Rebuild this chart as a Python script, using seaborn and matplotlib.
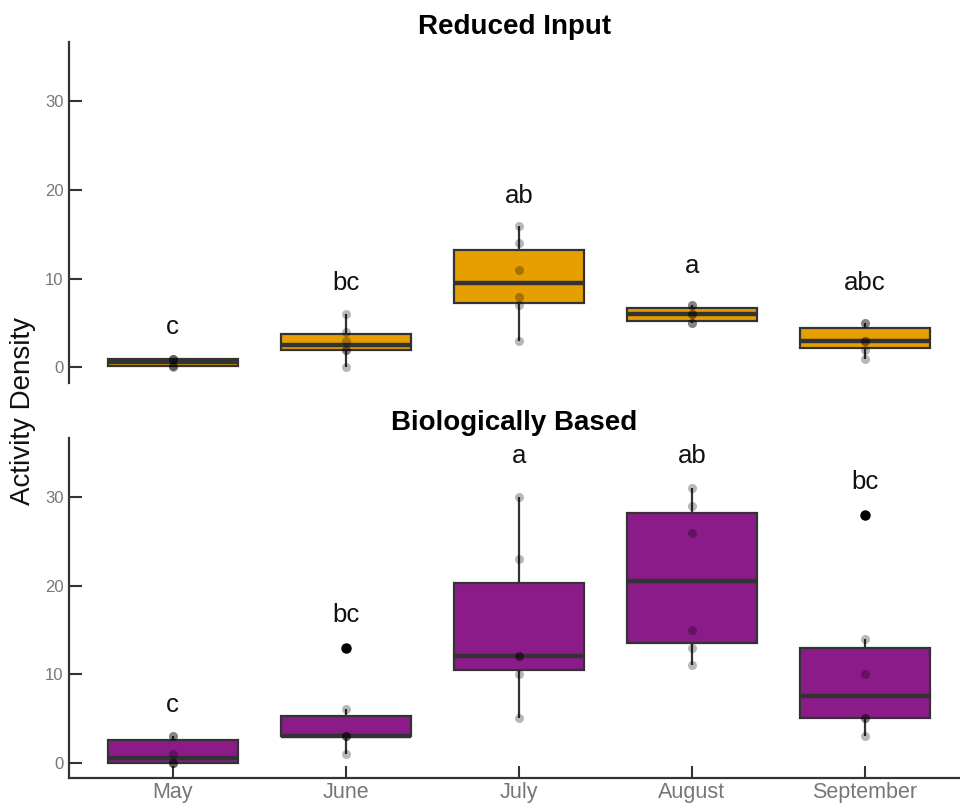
import matplotlib
matplotlib.use("Agg")
import matplotlib.pyplot as plt
import seaborn as sns
import pandas as pd

months = ["May", "June", "July", "August", "September"]

# Reduced Input values per month (6 samples each)
reduced_may = [0, 0.2, 0.2, 1, 1, 1]
reduced_june = [0, 2, 2, 3, 4, 6]
reduced_july = [3, 7, 8, 11, 14, 16]
reduced_august = [5, 5, 6, 6, 7, 7]
reduced_september = [1, 2, 3, 3, 5, 5]

# Biologically Based values per month
bio_may = [0, 0, 0, 1, 3, 3]
bio_june = [1, 3, 3, 3, 6, 13]
bio_july = [5, 10, 12, 12, 23, 30]
bio_august = [11, 13, 15, 26, 29, 31]
bio_september = [3, 5, 5, 10, 14, 28]

# significance letters and their heights
reduced_letters = ["c", "bc", "ab", "a", "abc"]
reduced_letter_y = [3.8, 8.7, 18.6, 10.7, 8.7]
bio_letters = ["c", "bc", "a", "ab", "bc"]
bio_letter_y = [5.75, 15.9, 33.9, 33.9, 30.9]

titles = ["Reduced Input", "Biologically Based"]
y_ticks = [0, 10, 20, 30]


def long_df(groups):
    rows = []
    for m, vals in zip(months, groups):
        for v in vals:
            rows.append({"month": m, "density": v})
    return pd.DataFrame(rows)


df_red = long_df([reduced_may, reduced_june, reduced_july, reduced_august, reduced_september])
df_bio = long_df([bio_may, bio_june, bio_july, bio_august, bio_september])

sns.set_style("white")
plt.rcParams["font.family"] = ["Liberation Sans", "DejaVu Sans"]

ORANGE = "#E69F00"
PURPLE = "#8A1B88"
EDGE = "#333333"
TICKC = "#777777"

fig = plt.figure(figsize=(9.6, 8.08), dpi=100)
ax1 = fig.add_axes([69 / 960, 1 - 383 / 808, (960 - 69) / 960, (383 - 42) / 808])
ax2 = fig.add_axes([69 / 960, 1 - 778 / 808, (960 - 69) / 960, (778 - 438) / 808])

for ax, df, col, title, letters, ly in [
    (ax1, df_red, ORANGE, titles[0], reduced_letters, reduced_letter_y),
    (ax2, df_bio, PURPLE, titles[1], bio_letters, bio_letter_y),
]:
    sns.boxplot(data=df, x="month", y="density", order=months, color=col,
                saturation=1, width=0.75, linewidth=1.6, linecolor=EDGE,
                showcaps=False, whis=1.5,
                flierprops=dict(marker="o", markerfacecolor="black",
                                markeredgecolor="black", markersize=6.5),
                medianprops=dict(linewidth=3.2, color=EDGE),
                whiskerprops=dict(linewidth=1.6, color=EDGE),
                ax=ax)
    sns.stripplot(data=df, x="month", y="density", order=months, jitter=False,
                  color="black", alpha=0.28, size=6.5, ax=ax, zorder=4)
    for i, (t, y) in enumerate(zip(letters, ly)):
        ax.text(i, y, t, ha="center", va="baseline", fontsize=18.5, color="#111111")
    ax.set_xlim(-0.6, 4.55)
    ax.set_ylim(-1.75, 36.7)
    ax.set_yticks(y_ticks)
    ax.set_xlabel("")
    ax.set_ylabel("")
    ax.set_title(title, fontsize=20, fontweight="bold", pad=6, color="black")
    for s in ["top", "right"]:
        ax.spines[s].set_visible(False)
    ax.spines["left"].set_linewidth(1.6)
    ax.spines["left"].set_color(EDGE)
    ax.spines["bottom"].set_linewidth(1.6)
    ax.spines["bottom"].set_color(EDGE)
    ax.tick_params(axis="y", left=True, direction="in", length=9, width=1.5, color=EDGE,
                   labelcolor=TICKC, labelsize=12, pad=4)
    ax.tick_params(axis="x", bottom=True, direction="in", length=9, width=1.5, color=EDGE,
                   labelcolor=TICKC, labelsize=15.5, pad=3)

ax1.spines["bottom"].set_visible(False)
ax1.tick_params(axis="x", bottom=False, labelbottom=False)

fig.text(0.024, 0.491, "Activity Density", rotation=90, ha="center", va="center",
         fontsize=20, color="#111111")

fig.savefig("out.png", dpi=100)
